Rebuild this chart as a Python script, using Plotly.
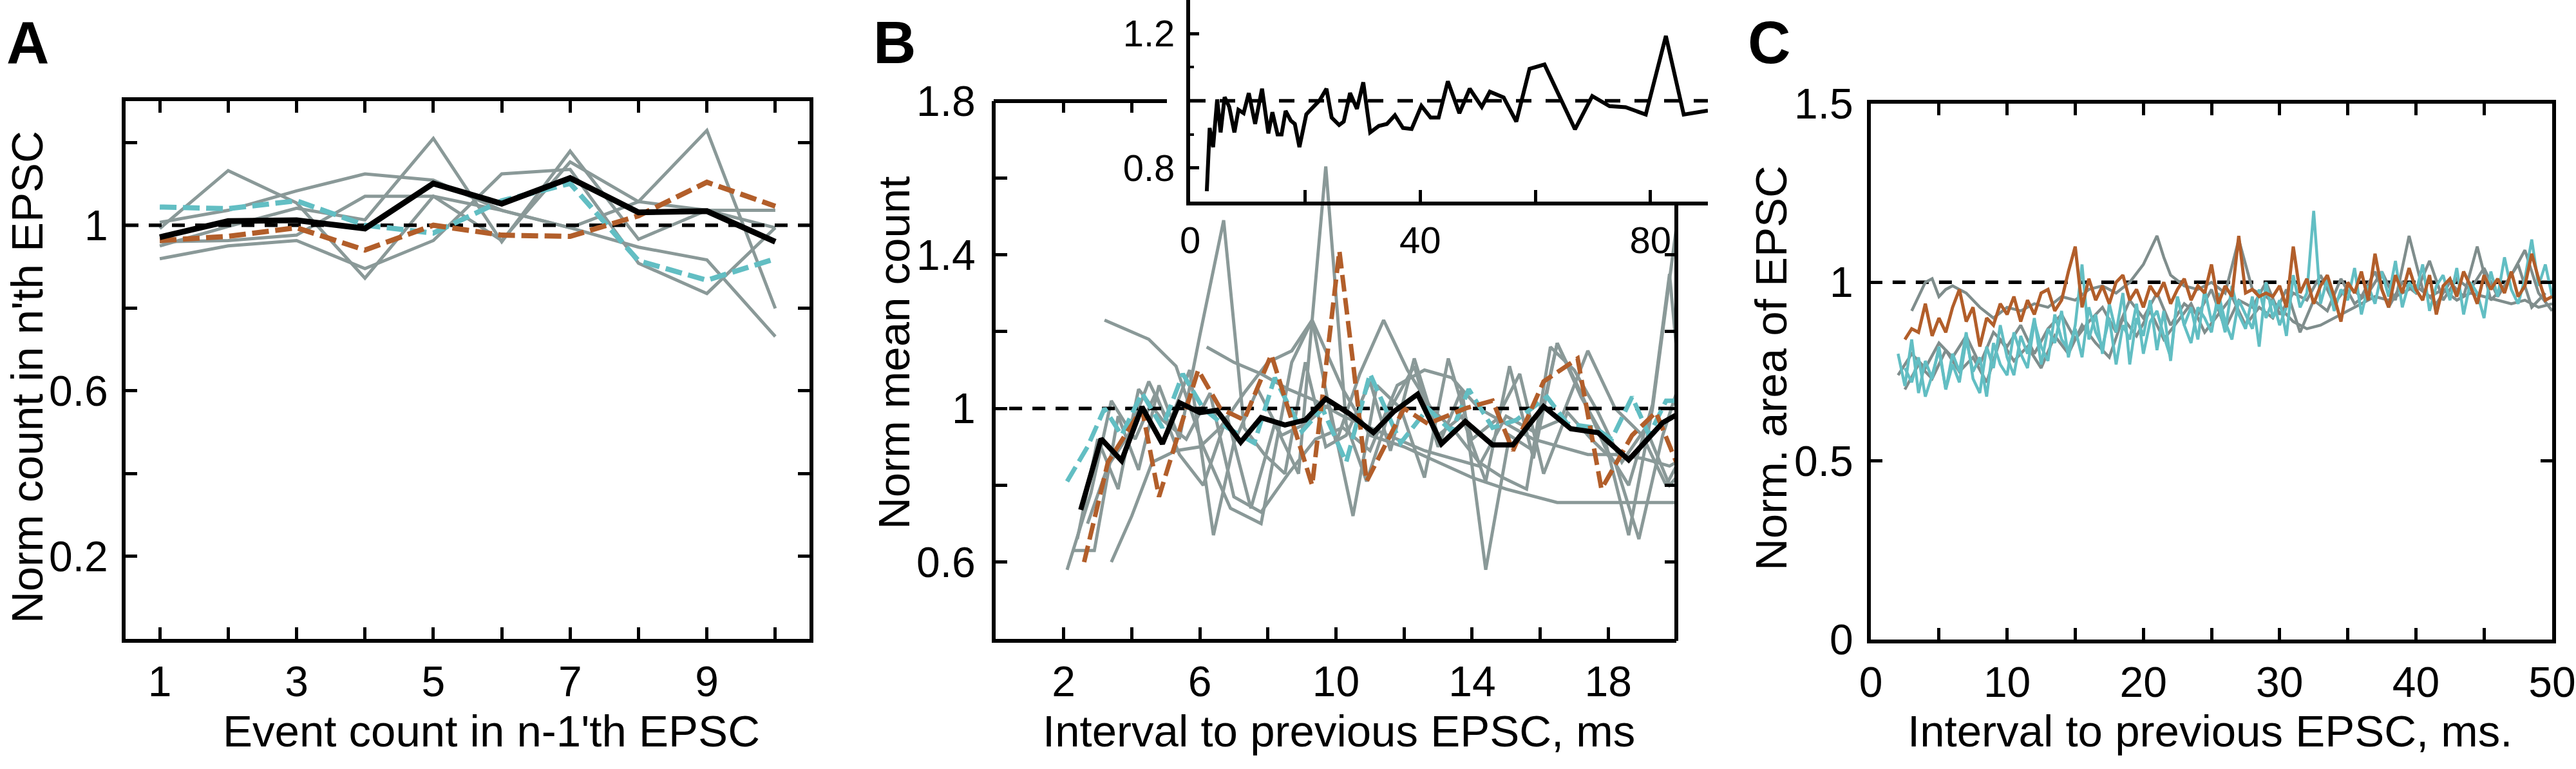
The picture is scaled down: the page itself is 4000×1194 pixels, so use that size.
import plotly.graph_objects as go

FONT = "Liberation Sans, Arial, Helvetica, sans-serif"
W, H = 4000, 1194

GRAY = "#8a9998"
GRAY_C = "#7f8d8c"
CYAN = "#62bec3"
ORANGE = "#b25e2a"

# ---------------- Panel A ----------------
A_X = [1, 2, 3, 4, 5, 6, 7, 8, 9, 10]
A_GRAY1 = [0.992, 1.132, 1.054, 0.872, 1.070, 0.963, 1.153, 1.057, 1.229, 0.799]
A_GRAY2 = [1.007, 1.036, 1.083, 1.124, 1.109, 1.036, 0.994, 0.947, 0.916, 0.731]
A_GRAY3 = [0.950, 0.997, 1.041, 1.013, 1.210, 0.960, 1.179, 0.966, 1.036, 1.036]
A_GRAY4 = [0.919, 0.950, 0.963, 0.895, 0.963, 1.124, 1.135, 0.908, 0.835, 0.994]
A_GRAY5 = [0.960, 0.963, 0.976, 1.070, 1.070, 1.036, 0.994, 1.057, 1.036, 0.994]
A_CYAN = [1.044, 1.040, 1.059, 1.000, 0.981, 1.059, 1.101, 0.914, 0.867, 0.919]
A_ORANGE = [0.963, 0.973, 0.994, 0.940, 1.000, 0.976, 0.973, 1.023, 1.104, 1.046]
A_MEAN = [0.971, 1.010, 1.012, 0.992, 1.101, 1.052, 1.114, 1.031, 1.034, 0.960]
A_XTICKS = [1, 2, 3, 4, 5, 6, 7, 8, 9, 10]
A_XLABELS = ["1", "", "3", "", "5", "", "7", "", "9", ""]
A_YTICKS = [0.2, 0.4, 0.6, 0.8, 1.0, 1.2]
A_YLABELS = ["0.2", "", "0.6", "", "1", ""]

# ---------------- Panel B ----------------
B_MEAN_X = [2.5, 3.1, 3.7, 4.3, 4.9, 5.4, 6.0, 6.5, 7.2, 7.8, 8.5, 9.1, 9.7, 10.4, 11.1, 11.7,
            12.4, 13.1, 13.8, 14.6, 15.2, 16.1, 16.9, 17.7, 18.6, 19.6, 20.0]
B_MEAN_Y = [0.736, 0.921, 0.864, 1.004, 0.908, 1.015, 0.989, 0.995, 0.912, 0.976, 0.957, 0.970,
            1.025, 0.986, 0.937, 0.992, 1.037, 0.908, 0.966, 0.905, 0.905, 1.005, 0.947, 0.937,
            0.866, 0.963, 0.983]
B_ORANGE_X = [2.6, 3.3, 4.3, 4.8, 5.95, 6.6, 7.3, 8.1, 9.3, 10.1, 10.5, 10.9, 12.0, 12.7, 13.8,
              14.6, 15.2, 16.1, 17.1, 17.8, 18.7, 19.4, 20.0]
B_ORANGE_Y = [0.60, 0.86, 1.0, 0.77, 1.10, 1.0, 0.97, 1.14, 0.80, 1.41, 1.12, 0.81, 1.0, 0.96,
              1.0, 1.02, 0.89, 1.07, 1.13, 0.79, 0.93, 0.99, 0.86]
B_CYAN_X = [2.1, 2.7, 3.2, 3.7, 4.3, 4.9, 5.5, 6.1, 6.8, 7.6, 8.2, 9.0, 9.6, 10.3, 11.0, 11.9,
            12.7, 13.4, 13.9, 14.6, 15.3, 16.2, 16.8, 17.6, 18.1, 18.7, 19.2, 19.7, 20.0]
B_CYAN_Y = [0.81, 0.90, 1.00, 0.93, 1.04, 0.95, 1.09, 1.0, 0.95, 0.91, 1.08, 0.94, 1.0, 0.86,
            1.09, 0.91, 1.0, 0.94, 1.05, 0.95, 0.97, 1.03, 0.96, 0.95, 0.92, 1.03, 0.93, 1.02, 1.02]
B_G1_X = [3.2, 4.5, 5.3, 6.1, 6.9, 7.8, 8.7, 9.3, 10.2, 11.0, 12.0, 13.0, 14.0, 15.0, 16.5, 18.0, 20.0]
B_G1_Y = [1.23, 1.18, 1.11, 0.90, 0.74, 0.70, 1.12, 1.23, 1.05, 0.93, 0.90, 0.86, 0.82, 0.79,
          0.755, 0.755, 0.755]
B_G2_X = [2.3, 2.9, 3.6, 4.2, 4.8, 5.4, 6.0, 6.7, 7.3, 7.9, 8.5, 9.1, 9.7, 10.3, 11.0, 11.6,
          12.3, 13.0, 13.7, 14.4, 15.1, 15.8, 16.5, 17.2, 17.9, 18.6, 19.3, 20.0]
B_G2_Y = [0.63, 0.63, 0.98, 0.84, 1.06, 0.92, 1.19, 1.49, 0.95, 0.88, 0.83, 1.12, 0.90, 0.93,
          1.07, 0.89, 1.13, 0.93, 0.98, 0.81, 1.11, 0.87, 1.17, 1.03, 0.92, 0.67, 1.0, 1.47]
B_G3_X = [2.1, 2.8, 3.4, 4.1, 4.7, 5.4, 6.1, 6.8, 7.5, 8.2, 8.9, 9.7, 10.3, 10.9, 11.6, 12.3,
          13.0, 13.7, 14.4, 15.1, 15.8, 16.5, 17.2, 17.9, 18.6, 19.3, 19.8, 20.0]
B_G3_Y = [0.58, 0.78, 1.02, 0.92, 1.04, 0.88, 0.80, 0.98, 0.74, 0.96, 0.83, 1.63, 0.96, 0.81,
          1.0, 1.11, 0.90, 1.05, 0.58, 0.93, 0.89, 1.17, 1.04, 0.90, 0.80, 1.01, 1.35, 1.16]
B_G4_X = [6.2, 7.0, 7.8, 8.6, 9.4, 10.2, 11.0, 11.8, 12.6, 13.4, 14.2, 15.0, 15.8, 16.6, 17.4,
          18.2, 19.0, 19.7, 20.0]
B_G4_Y = [1.16, 1.12, 1.09, 1.05, 1.02, 0.98, 0.95, 0.92, 0.89, 0.87, 0.85, 0.98, 0.94, 0.97,
          1.15, 1.00, 0.93, 0.80, 0.85]
B_G5_X = [3.4, 4.0, 4.6, 5.3, 6.0, 6.6, 7.3, 8.0, 8.7, 9.3, 10.0, 10.7, 11.4, 12.1, 12.8, 13.5,
          14.2, 14.9, 15.6, 16.3, 17.0, 17.7, 18.4, 19.1, 19.8, 20.0]
B_G5_Y = [0.60, 0.72, 0.86, 0.89, 0.90, 0.95, 1.04, 1.12, 1.15, 1.23, 0.91, 1.09, 1.23, 1.10,
          1.00, 0.94, 0.86, 0.82, 0.79, 1.16, 1.10, 0.99, 0.86, 0.95, 0.80, 0.82]
B_G6_X = [2.7, 3.3, 3.9, 4.5, 5.1, 5.7, 6.4, 7.0, 7.7, 8.4, 9.1, 9.8, 10.5, 11.2, 11.9, 12.6,
          13.3, 14.0, 14.7, 15.4, 16.1, 16.8, 17.5, 18.2, 18.9, 19.6, 20.0]
B_G6_Y = [0.70, 0.85, 0.93, 1.07, 0.96, 1.10, 0.67, 0.91, 1.05, 0.93, 0.96, 1.01, 0.72, 1.06,
          1.0, 0.82, 1.13, 0.92, 0.97, 1.09, 0.83, 0.99, 0.92, 0.86, 0.66, 0.93, 1.04]
B_G7_X = [2.4, 3.0, 3.6, 4.2, 4.9, 5.6, 6.3, 7.0, 7.8, 8.6, 9.4, 10.2, 11.0, 11.8, 12.6, 13.4,
          14.2, 15.0, 15.8, 16.6, 17.4, 18.2, 19.0, 19.8, 20.0]
B_G7_Y = [0.66, 0.92, 0.79, 1.05, 0.97, 0.92, 1.04, 0.77, 0.73, 0.83, 0.92, 0.95, 0.89, 1.06,
          1.10, 1.08, 1.0, 0.96, 0.92, 0.90, 0.88, 0.88, 0.87, 0.85, 0.86]
B_XTICKS = [2, 4, 6, 8, 10, 12, 14, 16, 18]
B_XLABELS = ["2", "", "6", "", "10", "", "14", "", "18"]
B_YTICKS = [0.6, 0.8, 1.0, 1.2, 1.4, 1.6, 1.8]
B_YLABELS = ["0.6", "", "1", "", "1.4", "", "1.8"]

# ---------------- Inset of B ----------------
IN_X = [2.9, 3.4, 4.0, 4.7, 5.3, 6.0, 6.8, 7.7, 8.4, 9.3, 10.2, 11.3, 12.5, 13.6, 14.3, 15.2,
        15.9, 16.6, 17.5, 18.2, 19.0, 20.2, 22.5, 23.7, 24.6, 25.9, 26.7, 27.8, 29.0, 30.1,
        31.3, 32.8, 34.2, 35.6, 37.0, 38.5, 40.2, 41.8, 43.2, 44.8, 46.8, 48.6, 50.7, 52.1,
        54.5, 56.7, 59.0, 61.6, 66.9, 69.9, 72.9, 75.7, 79.2, 82.7, 85.8, 90.0]
IN_Y = [0.731, 0.919, 0.862, 1.004, 0.906, 1.011, 0.982, 0.906, 0.973, 0.963, 1.023, 0.931,
        1.036, 0.903, 0.966, 0.900, 0.900, 0.970, 0.941, 0.931, 0.862, 0.960, 1.001, 1.036,
        0.950, 0.928, 0.938, 1.023, 0.976, 1.055, 0.906, 0.925, 0.931, 0.957, 0.919, 0.916,
        0.985, 0.950, 0.950, 1.058, 0.963, 1.036, 0.982, 1.027, 1.010, 0.938, 1.095, 1.108,
        0.915, 1.014, 0.984, 0.981, 0.959, 1.193, 0.959, 0.971]
IN_XTICKS = [0, 20, 40, 60, 80]
IN_XLABELS = ["0", "", "40", "", "80"]
IN_YTICKS = [0.8, 1.0, 1.2]
IN_YLABELS = ["0.8", "", "1.2"]

# ---------------- Panel C ----------------
C_X = [2.0, 2.5, 3.0, 3.5, 4.0, 4.5, 5.0, 5.5, 6.0, 6.5, 7.0, 7.5, 8.0, 8.5, 9.0, 9.5, 10.0,
       10.5, 11.0, 11.5, 12.0, 12.5, 13.0, 13.5, 14.0, 14.5, 15.0, 15.5, 16.0, 16.5, 17.0,
       17.5, 18.0, 18.5, 19.0, 19.5, 20.0, 20.5, 21.0, 21.5, 22.0, 22.5, 23.0, 23.5, 24.0,
       24.5, 25.0, 25.5, 26.0, 26.5, 27.0, 27.5, 28.0, 28.5, 29.0, 29.5, 30.0, 30.5, 31.0,
       31.5, 32.0, 32.5, 33.0, 33.5, 34.0, 34.5, 35.0, 35.5, 36.0, 36.5, 37.0, 37.5, 38.0,
       38.5, 39.0, 39.5, 40.0, 40.5, 41.0, 41.5, 42.0, 42.5, 43.0, 43.5, 44.0, 44.5, 45.0,
       45.5, 46.0, 46.5, 47.0, 47.5, 48.0, 48.5, 49.0, 49.5, 50.0]
C_ORANGE = [0.84, 0.87, 0.86, 0.94, 0.85, 0.90, 0.86, 0.93, 0.98, 0.89, 0.93, 0.82, 0.90, 0.88, 0.94, 0.91,
            0.96, 0.89, 0.95, 0.91, 0.97, 0.98, 0.92, 0.95, 1.03, 1.10, 0.93, 1.01, 0.95, 0.99, 0.94, 1.00,
            1.02, 0.95, 0.98, 0.93, 0.99, 0.96, 1.00, 0.94, 0.98, 1.01, 0.95, 0.99, 0.97, 1.05, 0.94, 0.99,
            0.96, 1.13, 0.97, 0.98, 0.96, 0.97, 0.96, 0.99, 0.93, 1.10, 0.97, 1.01, 0.94, 0.99, 1.02, 0.96,
            0.89, 1.00, 0.97, 1.03, 0.95, 1.08, 0.98, 0.93, 1.02, 0.97, 1.04, 0.98, 0.95, 1.02, 0.91, 0.99,
            1.01, 0.96, 1.03, 0.99, 0.94, 1.02, 0.98, 1.01, 0.97, 1.03, 0.96, 0.99, 1.08, 1.01, 0.95, 0.96]
C_CYAN1 = [0.80, 0.71, 0.84, 0.69, 0.78, 0.73, 0.82, 0.70, 0.80, 0.75, 0.86, 0.73, 0.69, 0.82, 0.76, 0.88, 0.79,
           0.74, 0.85, 0.80, 0.90, 0.77, 0.87, 0.83, 0.92, 0.79, 0.88, 1.05, 0.84, 0.91, 0.80, 0.94, 0.86,
           0.97, 0.77, 0.90, 0.85, 0.95, 0.81, 0.92, 0.78, 0.96, 0.88, 0.93, 0.84, 0.98, 0.89, 0.94, 0.86,
           0.99, 0.91, 0.87, 0.96, 0.82, 1.00, 0.90, 0.95, 0.85, 1.02, 0.93, 0.97, 1.20, 0.94, 1.01, 0.92,
           0.98, 0.95, 1.04, 0.91, 0.99, 0.94, 1.03, 0.96, 1.06, 0.93, 1.00, 0.97, 1.05, 0.92, 0.99, 1.02,
           0.95, 1.04, 0.91, 1.00, 0.97, 0.90, 1.03, 0.96, 1.07, 0.98, 0.94, 1.01, 1.12, 0.99, 1.05, 0.96]
C_CYAN2 = [0.76, 0.72, 0.79, 0.68, 0.74, 0.81, 0.70, 0.77, 0.72, 0.84,
           0.75, 0.79, 0.68, 0.83, 0.77, 0.74, 0.86, 0.80, 0.76, 0.89,
           0.82, 0.78, 0.91, 0.84, 0.81, 0.87, 0.79, 0.93, 0.86, 0.82,
           0.90, 0.77, 0.88, 0.84, 0.94, 0.80, 0.89, 0.92, 0.85, 0.79,
           0.96, 0.88, 0.83, 0.93, 0.90, 0.86, 0.97, 0.89, 0.84, 0.95,
           0.91, 0.87, 0.98, 0.90, 0.95, 0.88, 0.93]
C_GRAY1_X = [3.0, 3.5, 4.0, 4.5, 5.0, 5.5, 6.0, 6.5, 7.0, 7.5, 8.0, 9.0, 10.0, 11.0, 12.0, 13.0,
             14.0, 15.0, 16.0, 17.0, 18.0, 19.0, 20.0, 21.0, 21.5, 22.0, 23.0, 24.0, 25.0, 26.0,
             27.0, 27.5, 28.0, 29.0, 30.0, 31.0, 32.0, 33.0, 34.0, 35.0, 36.0, 37.0, 38.0, 39.0,
             40.0, 41.0, 42.0, 43.0, 44.0, 45.0, 46.0, 47.0, 48.0, 49.0, 50.0]
C_GRAY1_Y = [0.92, 0.96, 1.00, 1.01, 0.96, 0.98, 0.99, 0.98, 0.97, 0.95, 0.93,
             0.90, 0.93, 0.92, 0.94, 0.93, 0.96, 0.95, 0.98, 0.99, 0.97, 1.00, 1.05, 1.13,
             1.07, 1.02, 0.99, 0.98, 1.00, 0.97, 1.12, 1.05,
             0.98, 0.96, 0.93, 0.89, 0.87, 0.88, 0.90, 0.92, 0.94, 0.96, 0.95, 0.97, 0.99,
             0.96, 0.98, 0.95, 0.97, 0.96, 0.95, 0.94, 0.95, 0.93, 0.94]
C_GRAY2 = [0.74, 0.80, 0.76, 0.83, 0.79, 0.85, 0.77, 0.86, 0.82, 0.88,
           0.80, 0.87, 0.91, 0.84, 0.89, 0.93, 0.86, 0.95, 0.90, 0.97,
           0.88, 0.94, 0.91, 0.98, 0.87, 0.95, 0.93, 1.00, 0.91, 0.97,
           0.95, 1.02, 0.94, 0.99, 0.96, 1.03, 0.93, 1.00, 0.97, 1.06,
           0.95, 1.01, 0.98, 1.04, 0.96, 1.02, 1.09, 0.97, 0.92]
C_GRAY3 = [0.70, 0.77, 0.73, 0.81, 0.75, 0.79, 0.72, 0.84, 0.78, 0.82,
           0.76, 0.85, 0.80, 0.88, 0.83, 0.79, 0.90, 0.85, 0.92, 0.84,
           0.89, 0.94, 0.86, 0.91, 0.96, 0.88, 0.93, 0.90, 0.98, 0.86,
           0.95, 0.92, 1.01, 0.94, 0.97, 1.03, 0.95, 1.13, 0.98, 0.94,
           1.00, 0.96, 1.10, 0.95, 0.99, 1.05, 0.93, 0.97]
C_XTICKS = [0, 5, 10, 15, 20, 25, 30, 35, 40, 45, 50]
C_XLABELS = ["0", "", "10", "", "20", "", "30", "", "40", "", "50"]
C_YTICKS = [0, 0.5, 1.0, 1.5]
C_YLABELS = ["0", "0.5", "1", "1.5"]

# ---------------- layout geometry (pixels) ----------------
A_L, A_R, TOP, BOT = 195, 1257, 157, 992
B_L, B_R = 1546, 2603
C_L, C_R, C_T, C_B = 2905, 3963, 161, 993
IN_L, IN_R, IN_B = 1848, 2652, 313


def px(x):
    return x / W


def py(y):
    return 1 - y / H


def axis(**kw):
    d = dict(showline=True, linecolor="black", linewidth=6, ticks="inside", ticklen=18,
             tickwidth=5, tickcolor="black", showgrid=False, zeroline=False,
             tickfont=dict(family=FONT, size=66, color="black"), fixedrange=True,
             tickmode="array", automargin=False, title=dict(text=""))
    d.update(kw)
    return d


fig = go.Figure()


def line(x, y, xa, ya, color, width, dash=None):
    fig.add_trace(go.Scatter(x=x, y=y, xaxis=xa, yaxis=ya, mode="lines",
                             line=dict(color=color, width=width, dash=dash),
                             showlegend=False, hoverinfo="skip"))


DASH_BLACK = "20px,16px"
DASH_COL = "26px,10px"

# Panel A
for g in [A_GRAY1, A_GRAY2, A_GRAY3, A_GRAY4, A_GRAY5]:
    line(A_X, g, "x", "y", GRAY, 5)
line([0.5, 10.5], [1, 1], "x", "y", "black", 5.5, DASH_BLACK)
line(A_X, A_CYAN, "x", "y", CYAN, 8, DASH_COL)
line(A_X, A_ORANGE, "x", "y", ORANGE, 8, DASH_COL)
line(A_X, A_MEAN, "x", "y", "black", 9)

# Panel B
for gx, gy in [(B_G1_X, B_G1_Y), (B_G2_X, B_G2_Y), (B_G3_X, B_G3_Y), (B_G4_X, B_G4_Y),
               (B_G5_X, B_G5_Y), (B_G6_X, B_G6_Y), (B_G7_X, B_G7_Y)]:
    line(gx, gy, "x2", "y2", GRAY, 5)
line([0.4, 20], [1, 1], "x2", "y2", "black", 5.5, DASH_BLACK)
line(B_CYAN_X, B_CYAN_Y, "x2", "y2", CYAN, 7, DASH_COL)
line(B_ORANGE_X, B_ORANGE_Y, "x2", "y2", ORANGE, 7, DASH_COL)
line(B_MEAN_X, B_MEAN_Y, "x2", "y2", "black", 8)
# dummy traces so that the overlay tick axes (top / right of B) get drawn
fig.add_trace(go.Scatter(x=[None], y=[None], xaxis="x5", yaxis="y2", showlegend=False, hoverinfo="skip"))
fig.add_trace(go.Scatter(x=[None], y=[None], xaxis="x2", yaxis="y5", showlegend=False, hoverinfo="skip"))

# Inset
line([0, 90], [1, 1], "x4", "y4", "black", 5.5, "24px,22px")
line(IN_X, IN_Y, "x4", "y4", "black", 6)

# Panel C
line([1.6, 50], [1, 1], "x3", "y3", "black", 5.5, DASH_BLACK)
line(C_GRAY1_X, C_GRAY1_Y, "x3", "y3", GRAY_C, 4.5)
line(C_X[::2], C_GRAY2, "x3", "y3", GRAY_C, 4.5)
line(C_X[1::2], C_GRAY3, "x3", "y3", GRAY_C, 4.5)
line(C_X, C_CYAN1, "x3", "y3", CYAN, 4.5)
line(C_X[1:58], C_CYAN2, "x3", "y3", CYAN, 4.5)
line(C_X[1:], C_ORANGE, "x3", "y3", ORANGE, 5)

ydom_ab = [py(BOT), py(TOP)]

fig.update_layout(
    template="none",
    width=W, height=H, autosize=False,
    margin=dict(l=0, r=0, t=0, b=0, pad=0, autoexpand=False),
    paper_bgcolor="white", plot_bgcolor="rgba(0,0,0,0)",
    font=dict(family=FONT, color="black"),
    showlegend=False,
    xaxis=axis(domain=[px(A_L), px(A_R)], anchor="y", range=[0.5, 10.5],
               tickvals=A_XTICKS, ticktext=A_XLABELS, mirror="ticks", ticklabelstandoff=4),
    yaxis=axis(domain=ydom_ab, anchor="x", range=[0, 1.3],
               tickvals=A_YTICKS, ticktext=A_YLABELS, mirror="ticks", ticklabelstandoff=8),
    xaxis2=axis(domain=[px(B_L), px(B_R)], anchor="y2", range=[0, 20],
                tickvals=B_XTICKS, ticktext=B_XLABELS, ticklabelstandoff=4),
    yaxis2=axis(domain=ydom_ab, anchor="x2", range=[0.4, 1.8],
                tickvals=B_YTICKS, ticktext=B_YLABELS, ticklabelstandoff=12),
    xaxis5=axis(overlaying="x2", side="top", anchor="y2", range=[0, 20], showline=False,
                tickvals=[2, 4], showticklabels=False),
    yaxis5=axis(overlaying="y2", side="right", anchor="x2", range=[0.4, 1.8], showline=False,
                tickvals=[0.6, 0.8, 1.0, 1.2, 1.4], showticklabels=False),
    xaxis3=axis(domain=[px(C_L), px(C_R)], anchor="y3", range=[0, 50],
                tickvals=C_XTICKS, ticktext=C_XLABELS, mirror="ticks", ticklabelstandoff=4),
    yaxis3=axis(domain=[py(C_B), py(C_T)], anchor="x3", range=[0, 1.5],
                tickvals=C_YTICKS, ticktext=C_YLABELS, mirror="ticks", ticklabelstandoff=8),
    xaxis4=axis(domain=[px(IN_L), px(IN_R)], anchor="y4", range=[0, 90],
                tickvals=IN_XTICKS, ticktext=IN_XLABELS, tickfont=dict(family=FONT, size=58, color="black"),
                ticklabelstandoff=4),
    yaxis4=axis(domain=[py(IN_B), 1.0], anchor="x4", range=[0.7, 1.3], ticklen=14,
                tickvals=IN_YTICKS, ticktext=IN_YLABELS, tickfont=dict(family=FONT, size=58, color="black"),
                ticklabelstandoff=6,
                minor=dict(tickmode="array", tickvals=[0.9, 1.1], ticks="inside", ticklen=6,
                           tickwidth=4, tickcolor="black")),
)

# partial frame of panel B (top segment and right spine)
fig.add_shape(type="line", xref="paper", yref="paper", x0=px(B_L - 3), x1=px(1812),
              y0=py(TOP), y1=py(TOP), line=dict(color="black", width=6))
fig.add_shape(type="line", xref="paper", yref="paper", x0=px(B_R), x1=px(B_R),
              y0=py(BOT + 3), y1=py(318), line=dict(color="black", width=6))

ann = []


def text(s, x, y, size, angle=0, bold=False, xanchor="center"):
    ann.append(dict(text=("<b>%s</b>" % s) if bold else s, x=px(x), y=py(y), xref="paper", yref="paper",
                    showarrow=False, textangle=angle, xanchor=xanchor, yanchor="middle",
                    font=dict(family=FONT, size=size, color="black")))


text("A", 8, 66, 92, bold=True, xanchor="left")
text("B", 1354, 66, 92, bold=True, xanchor="left")
text("C", 2712, 66, 92, bold=True, xanchor="left")
text("Norm count in n'th EPSC", 42, 586, 69, angle=-90)
text("Norm mean count", 1388, 548, 69, angle=-90)
text("Norm. area of EPSC", 2750, 572, 69, angle=-90)
text("Event count in n-1'th EPSC", 763, 1135, 69)
text("Interval to previous EPSC, ms", 2079, 1135, 69)
text("Interval to previous EPSC, ms.", 3432, 1135, 69)
fig.update_layout(annotations=ann)

fig.write_html("out.html", config={"displayModeBar": False},
               post_script="document.body.style.margin='0';document.body.style.overflow='hidden';")
